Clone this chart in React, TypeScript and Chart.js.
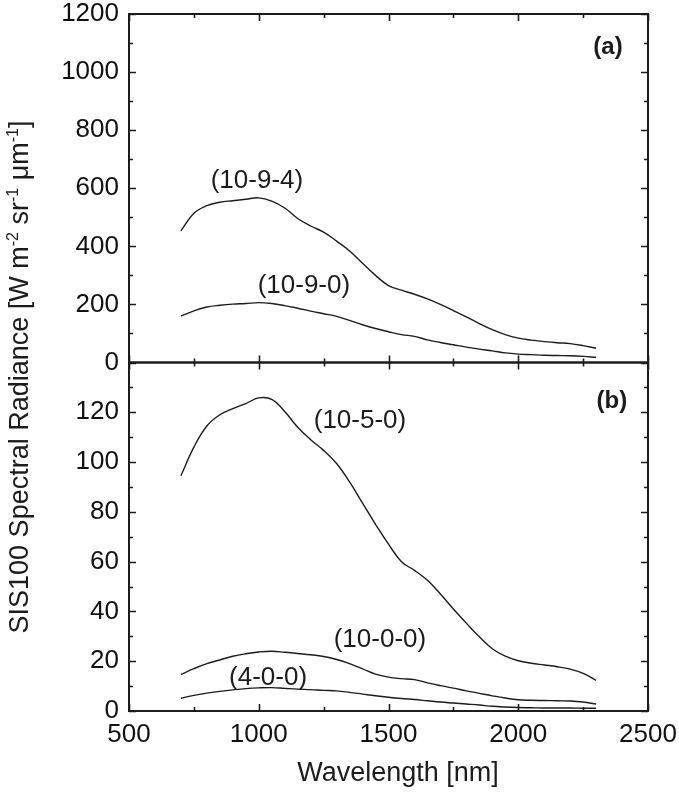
import React, { useEffect, useRef } from 'react';
import { Chart, registerables } from 'chart.js';

Chart.register(...registerables);

// ---------- data ----------
const wavelengths = [
  700, 750, 800, 850, 900, 950, 1000, 1050, 1100, 1150, 1200, 1250, 1300, 1350, 1400, 1450,
  1500, 1550, 1600, 1650, 1700, 1750, 1800, 1850, 1900, 1950, 2000, 2050, 2100, 2150, 2200, 2250, 2300,
];

// panel (a)
const s1094 = [
  453, 514, 540, 552, 557, 562, 567, 556, 532, 496, 470, 449, 418, 384, 342, 300,
  265, 249, 235, 219, 200, 179, 157, 134, 113, 96, 84, 77, 72, 68, 65, 58, 49,
];
const s1090 = [
  160, 178, 191, 197, 201, 203, 206, 203, 196, 187, 177, 168, 159, 145, 130, 117,
  106, 96, 90, 78, 69, 61, 53, 46, 40, 33, 29, 27, 25, 24, 23, 21, 18,
];

// panel (b)
const s1050 = [
  94.5, 106, 114.5, 119, 121.5, 123.5, 125.8, 125.2, 120.3, 114, 109, 104.7, 99.4, 92, 83.5, 75,
  67, 60, 56.5, 52.5, 47, 41, 35.3, 29.8, 25, 22, 20.2, 19.2, 18.5, 17.8, 16.8, 15.1, 12.3,
];
const s1000 = [
  14.7, 17, 19, 20.5, 22, 23, 23.7, 24, 23.6, 23.1, 22.6, 21.9, 20.7, 19, 16.9, 14.8,
  13.6, 13, 12.6, 11.3, 10.2, 9.2, 8.1, 7.1, 6.1, 5.2, 4.5, 4.3, 4.2, 4.1, 4.0, 3.6, 2.8,
];
const s400 = [
  5.1, 6.3, 7.2, 7.9, 8.5, 9, 9.3, 9.4, 9.1, 8.8, 8.6, 8.3, 8.1, 7.5, 6.8, 6.1,
  5.5, 5.0, 4.6, 4.1, 3.6, 3.2, 2.8, 2.4, 1.9, 1.6, 1.4, 1.3, 1.2, 1.2, 1.2, 1.1, 1.1,
];

const seriesNames = ['(10-9-4)', '(10-9-0)', '(10-5-0)', '(10-0-0)', '(4-0-0)'];

// axis ticks
const xRange = [500, 2500];
const xMajorStep = 500;
const aRange = [0, 1200];
const aMajorStep = 200;
const bRange = [0, 140];
const bMajorStep = 20;

// curve label anchors (data coordinates)
const labelX = [993, 1174, 1390, 1467, 1036];
const labelY = [624, 264, 116.5, 28.5, 13.4];
const labelAxis = ['yA', 'yA', 'yB', 'yB', 'yB'];

const panelLabels = ['(a)', '(b)'];
const panelLabelX = [2346, 2361];
const panelLabelY = [1086, 124.4];

const FONT = '"Liberation Sans", Arial, Helvetica, sans-serif';
const INK = '#1c1c1c';

function toPoints(ys: number[]) {
  return wavelengths.map((w, i) => ({ x: w, y: ys[i] }));
}

const framePlugin = {
  id: 'framePlugin',
  afterDraw(chart: any) {
    const ctx: CanvasRenderingContext2D = chart.ctx;
    const x = chart.scales.x;
    const yA = chart.scales.yA;
    const yB = chart.scales.yB;
    const L = chart.chartArea.left;
    const R = chart.chartArea.right;
    ctx.save();
    ctx.strokeStyle = INK;
    ctx.lineWidth = 2;
    ctx.strokeRect(L, yA.top, R - L, yA.bottom - yA.top);
    ctx.strokeRect(L, yB.top, R - L, yB.bottom - yB.top);

    ctx.lineWidth = 1.6;
    const major = 7;
    const minor = 4;
    ctx.beginPath();
    const xStep = xMajorStep / 2;
    for (let v = xRange[0]; v <= xRange[1]; v += xStep) {
      const len = v % xMajorStep === 0 ? major : minor;
      const px = Math.round(x.getPixelForValue(v)) + 0.5;
      ctx.moveTo(px, yA.top); ctx.lineTo(px, yA.top + len);
      ctx.moveTo(px, yA.bottom); ctx.lineTo(px, yA.bottom - len);
      ctx.moveTo(px, yB.top); ctx.lineTo(px, yB.top + len);
      ctx.moveTo(px, yB.bottom); ctx.lineTo(px, yB.bottom - len);
    }
    const panels = [
      { s: yA, r: aRange, st: aMajorStep },
      { s: yB, r: bRange, st: bMajorStep },
    ];
    for (const p of panels) {
      const half = p.st / 2;
      for (let v = p.r[0]; v <= p.r[1]; v += half) {
        const len = v % p.st === 0 ? major : minor;
        const py = Math.round(p.s.getPixelForValue(v)) + 0.5;
        ctx.moveTo(L, py); ctx.lineTo(L + len, py);
        ctx.moveTo(R, py); ctx.lineTo(R - len, py);
      }
    }
    ctx.stroke();

    // curve labels
    ctx.fillStyle = INK;
    ctx.font = `26px ${FONT}`;
    ctx.textAlign = 'center';
    ctx.textBaseline = 'middle';
    seriesNames.forEach((n, i) => {
      const sc = chart.scales[labelAxis[i]];
      ctx.fillText(n, x.getPixelForValue(labelX[i]), sc.getPixelForValue(labelY[i]));
    });

    // panel labels
    ctx.font = `bold 24px ${FONT}`;
    ctx.fillText(panelLabels[0], x.getPixelForValue(panelLabelX[0]), yA.getPixelForValue(panelLabelY[0]));
    ctx.fillText(panelLabels[1], x.getPixelForValue(panelLabelX[1]), yB.getPixelForValue(panelLabelY[1]));

    // x title
    ctx.font = `27px ${FONT}`;
    ctx.textBaseline = 'alphabetic';
    ctx.fillText('Wavelength [nm]', 398, 781);

    // y title with superscripts
    const segs: [string, boolean][] = [
      ['SIS100 Spectral Radiance [W m', false],
      ['-2', true],
      [' sr', false],
      ['-1', true],
      [' \u03BCm', false],
      ['-1', true],
      [']', false],
    ];
    const mainFont = `27px ${FONT}`;
    const supFont = `16px ${FONT}`;
    let total = 0;
    for (const [t, sup] of segs) {
      ctx.font = sup ? supFont : mainFont;
      total += ctx.measureText(t).width;
    }
    ctx.save();
    ctx.translate(28, 377);
    ctx.rotate(-Math.PI / 2);
    ctx.textAlign = 'left';
    ctx.textBaseline = 'alphabetic';
    let cx = -total / 2;
    for (const [t, sup] of segs) {
      ctx.font = sup ? supFont : mainFont;
      ctx.fillText(t, cx, sup ? -10 : 0);
      cx += ctx.measureText(t).width;
    }
    ctx.restore();
    ctx.restore();
  },
};

export default function App() {
  const ref = useRef<HTMLCanvasElement>(null);
  useEffect(() => {
    document.body.style.margin = '0';
    const canvas = ref.current!;
    const lineStyle = {
      borderColor: INK,
      borderWidth: 1.4,
      pointRadius: 0,
      tension: 0.4,
      fill: false,
    };
    const tickFont = { family: FONT, size: 26 };
    const chart = new Chart(canvas, {
      type: 'line',
      data: {
        datasets: [
          { label: seriesNames[0], data: toPoints(s1094), yAxisID: 'yA', ...lineStyle },
          { label: seriesNames[1], data: toPoints(s1090), yAxisID: 'yA', ...lineStyle },
          { label: seriesNames[2], data: toPoints(s1050), yAxisID: 'yB', ...lineStyle },
          { label: seriesNames[3], data: toPoints(s1000), yAxisID: 'yB', ...lineStyle },
          { label: seriesNames[4], data: toPoints(s400), yAxisID: 'yB', ...lineStyle },
        ],
      },
      options: {
        animation: false,
        responsive: false,
        devicePixelRatio: 1,
        layout: { padding: { left: 0, top: 14, right: 31, bottom: 0 } },
        plugins: { legend: { display: false }, tooltip: { enabled: false }, title: { display: false } },
        scales: {
          x: {
            type: 'linear',
            min: xRange[0],
            max: xRange[1],
            grid: { display: false, drawTicks: false },
            border: { display: false },
            ticks: {
              stepSize: xMajorStep, autoSkip: false, color: '#111', font: tickFont, padding: 8, maxRotation: 0,
              callback: (v: any) => String(v),
            },
            afterFit: (s: any) => { s.height = 81; s.paddingLeft = 0; s.paddingRight = 0; },
          },
          yB: {
            type: 'linear',
            position: 'left',
            stack: 'panels',
            stackWeight: 1,
            min: bRange[0],
            max: bRange[1],
            grid: { display: false, drawTicks: false },
            border: { display: false },
            ticks: {
              stepSize: bMajorStep, autoSkip: false, color: '#111', font: tickFont, padding: 10,
              callback: (v: any) => (v === bRange[1] ? null : String(v)),
            },
            afterFit: (s: any) => { s.width = 129; s.paddingTop = 0; s.paddingBottom = 0; },
          },
          yA: {
            type: 'linear',
            position: 'left',
            stack: 'panels',
            stackWeight: 1,
            min: aRange[0],
            max: aRange[1],
            grid: { display: false, drawTicks: false },
            border: { display: false },
            ticks: {
              stepSize: aMajorStep, autoSkip: false, color: '#111', font: tickFont, padding: 10,
              callback: (v: any) => String(v),
            },
            afterFit: (s: any) => { s.width = 129; s.paddingTop = 0; s.paddingBottom = 0; },
          },
        },
      } as any,
      plugins: [framePlugin],
    });
    return () => chart.destroy();
  }, []);
  return (
    <div style={{ position: 'absolute', left: 0, top: 0, width: 679, height: 792, background: '#fff' }}>
      <canvas ref={ref} width={679} height={792} />
    </div>
  );
}
